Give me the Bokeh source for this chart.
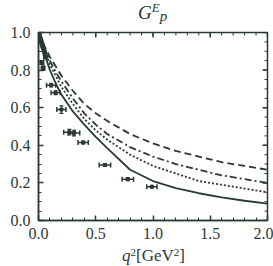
import math
from bokeh.plotting import figure
from bokeh.layouts import column
from bokeh.models import (ColumnDataSource, Whisker, TeeHead, Div,
                          FixedTicker, NumeralTickFormatter, Range1d)
from bokeh.embed import file_html
from bokeh.resources import INLINE

# ---- data ----
q2_data = [0.005, 0.01, 0.015, 0.02, 0.025, 0.03, 0.035, 0.04, 0.045, 0.05, 0.055,
           0.06, 0.03, 0.04, 0.11, 0.15, 0.20, 0.27, 0.31, 0.39, 0.58, 0.78, 0.99]
ge_data = [0.99, 0.98, 0.97, 0.96, 0.95, 0.94, 0.93, 0.92, 0.91, 0.90, 0.89,
           0.87, 0.84, 0.81, 0.72, 0.68, 0.59, 0.47, 0.465, 0.415, 0.295, 0.22, 0.18]
dq2_data = [0.01, 0.01, 0.01, 0.01, 0.01, 0.01, 0.01, 0.01, 0.01, 0.01, 0.01,
            0.015, 0.015, 0.015, 0.04, 0.04, 0.04, 0.05, 0.05, 0.045, 0.05, 0.05, 0.045]
dge_data = [0.01, 0.01, 0.01, 0.01, 0.01, 0.01, 0.01, 0.01, 0.01, 0.01, 0.01,
            0.01, 0.01, 0.012, 0.01, 0.01, 0.02, 0.015, 0.015, 0.008, 0.006, 0.008, 0.006]

q2_curve = [0.0, 0.05, 0.1, 0.15, 0.2, 0.3, 0.4, 0.5, 0.6, 0.8, 1.0, 1.2, 1.4, 1.6, 1.8, 2.0]
ge_solid = [1.0, 0.89, 0.80, 0.73, 0.67, 0.58, 0.51, 0.445, 0.385, 0.27, 0.21, 0.172, 0.145, 0.123, 0.105, 0.09]
ge_dotted = [1.0, 0.91, 0.83, 0.77, 0.71, 0.62, 0.54, 0.48, 0.43, 0.35, 0.29, 0.25, 0.21, 0.19, 0.17, 0.15]
ge_dashdot = [1.0, 0.92, 0.85, 0.79, 0.74, 0.65, 0.57, 0.51, 0.46, 0.39, 0.34, 0.30, 0.27, 0.24, 0.22, 0.20]
ge_dashed = [1.0, 0.93, 0.87, 0.82, 0.77, 0.69, 0.62, 0.57, 0.53, 0.46, 0.41, 0.37, 0.34, 0.31, 0.29, 0.27]

x_ticks = [0.0, 0.5, 1.0, 1.5, 2.0]
y_ticks = [0.0, 0.2, 0.4, 0.6, 0.8, 1.0]
x_minor = [i / 10 for i in range(0, 21)]
y_minor = [i / 20 for i in range(0, 21)]

INK = "#2b3a31"
FONT = "Liberation Serif"

p = figure(frame_width=229, frame_height=188, output_backend="svg", toolbar_location=None,
           x_range=Range1d(0, 2.0), y_range=Range1d(0, 1.0),
           min_border_left=38, min_border_right=6, min_border_top=10, min_border_bottom=26,
           background_fill_color="white", border_fill_color=None, margin=0)
p.grid.visible = False
p.outline_line_color = INK
p.outline_line_width = 1.5

def style_axis(ax, ticks, minor):
    ax.ticker = FixedTicker(ticks=ticks, minor_ticks=minor)
    ax.formatter = NumeralTickFormatter(format="0.0")
    ax.axis_line_color = INK
    ax.axis_line_width = 1.5
    ax.major_tick_line_color = INK
    ax.minor_tick_line_color = INK
    ax.major_tick_line_width = 1.5
    ax.minor_tick_line_width = 1
    ax.major_tick_in = 5
    ax.major_tick_out = 0
    ax.minor_tick_in = 3
    ax.minor_tick_out = 0
    ax.major_label_text_font = FONT
    ax.major_label_text_font_size = "16px"
    ax.major_label_text_color = INK

style_axis(p.xaxis[0], x_ticks, x_minor)
style_axis(p.yaxis[0], y_ticks, y_minor)
p.xaxis[0].major_label_standoff = 7
p.yaxis[0].major_label_standoff = 8

# mirrored inward ticks on top and right edges (clipped to the frame)
x_r, y_r = p.x_range.end, p.y_range.end
p.scatter(x_ticks, [y_r] * len(x_ticks), marker="dash", angle=math.pi / 2, size=10,
          line_color=INK, line_width=1.5)
p.scatter(x_minor, [y_r] * len(x_minor), marker="dash", angle=math.pi / 2, size=6,
          line_color=INK, line_width=1)
p.scatter([x_r] * len(y_ticks), y_ticks, marker="dash", size=10,
          line_color=INK, line_width=1.5)
p.scatter([x_r] * len(y_minor), y_minor, marker="dash", size=6,
          line_color=INK, line_width=1)

# ---- curves ----
p.line(q2_curve, ge_solid, line_color=INK, line_width=1.8)
p.line(q2_curve, ge_dotted, line_color=INK, line_width=1.8, line_dash="2 2")
p.line(q2_curve, ge_dashdot, line_color=INK, line_width=1.8, line_dash="7 3 2 3")
p.line(q2_curve, ge_dashed, line_color=INK, line_width=1.8, line_dash="7 4")

# ---- data points ----
src = ColumnDataSource(dict(
    x=q2_data, y=ge_data,
    xl=[a - b for a, b in zip(q2_data, dq2_data)],
    xu=[a + b for a, b in zip(q2_data, dq2_data)],
    yl=[a - b for a, b in zip(ge_data, dge_data)],
    yu=[a + b for a, b in zip(ge_data, dge_data)],
))
p.add_layout(Whisker(source=src, base="y", lower="xl", upper="xu", dimension="width",
                     line_color=INK, line_width=1.5,
                     lower_head=TeeHead(size=5, line_color=INK, line_width=1.5),
                     upper_head=TeeHead(size=5, line_color=INK, line_width=1.5)))
p.add_layout(Whisker(source=src, base="x", lower="yl", upper="yu", dimension="height",
                     line_color=INK, line_width=1.2,
                     lower_head=TeeHead(size=4, line_color=INK, line_width=1.2),
                     upper_head=TeeHead(size=4, line_color=INK, line_width=1.2)))
p.scatter("x", "y", source=src, marker="square", size=3, color=INK)

# ---- title and axis label as HTML text ----
base_style = (f"font-family:'{FONT}';color:{INK};white-space:nowrap;margin:0;")
title_html = (
    f"<div style=\"{base_style}font-size:19px;line-height:19px;padding:3px 0 0 138px;\">"
    "<i>G</i><i style=\"position:relative;top:-7px;font-size:13px;\">E</i>"
    "<i style=\"position:relative;top:2px;font-size:15px;\">p</i></div>"
)
xlabel_html = (
    f"<div style=\"{base_style}font-size:17px;line-height:20px;padding:0 0 0 122px;\">"
    "<i>q</i><span style=\"position:relative;top:-5px;font-size:11px;\">2</span>"
    "[GeV<span style=\"position:relative;top:-5px;font-size:11px;\">2</span>]</div>"
)
title_div = Div(text=title_html, width=273, height=22, margin=0,
                styles={"overflow": "visible", "z-index": "1"})
xlabel_div = Div(text=xlabel_html, width=273, height=20, margin=0)

layout = column(title_div, p, xlabel_div, spacing=0, margin=0)

open("out.html", "w").write(file_html(layout, INLINE))
